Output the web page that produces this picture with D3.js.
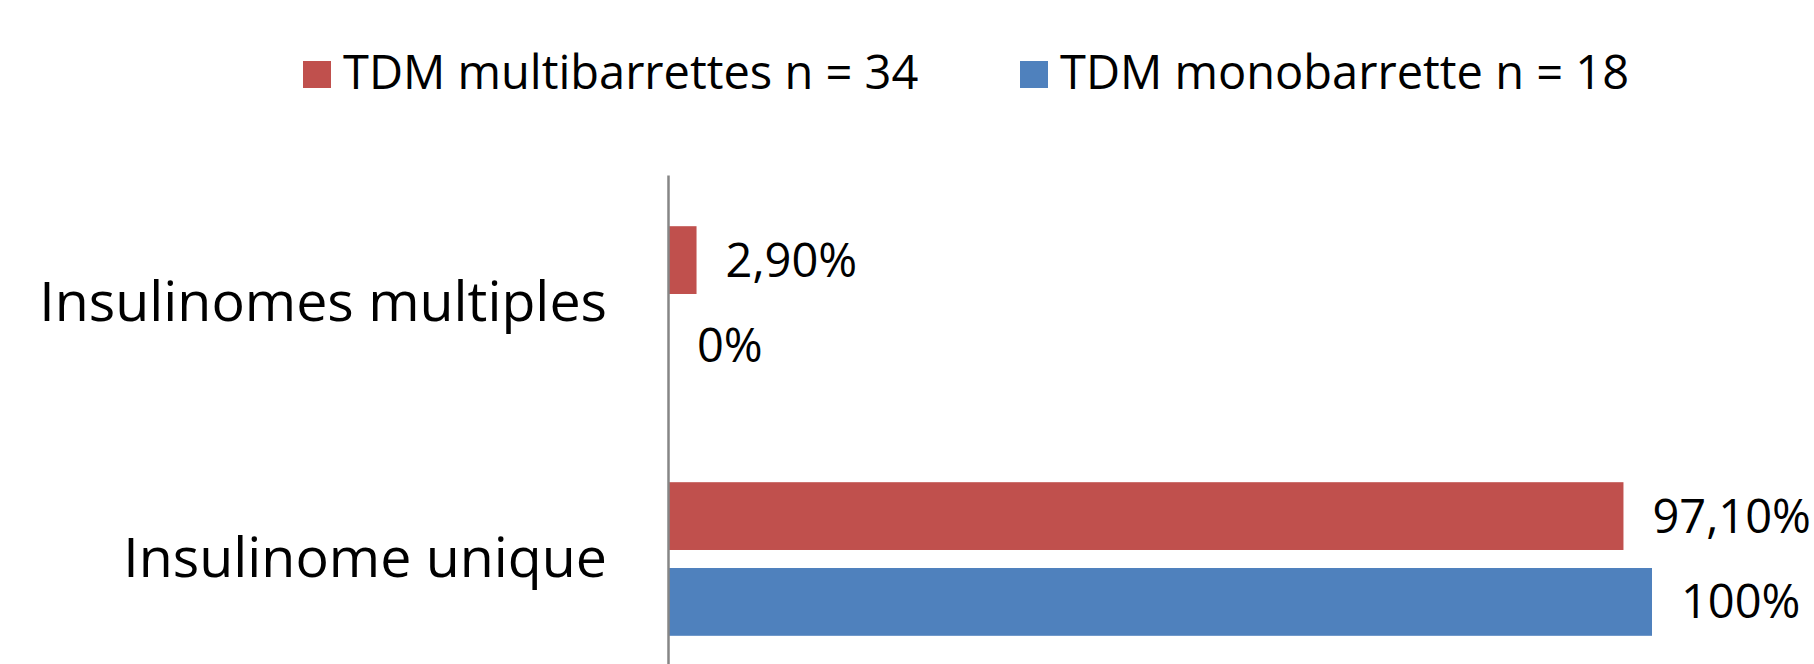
<!DOCTYPE html>
<html>
<head>
<meta charset="utf-8">
<script src="https://cdn.jsdelivr.net/npm/d3@7"></script>
<style>
  html, body { margin: 0; padding: 0; background: #fff; }
  svg { display: block; font-family: "Open Sans", "Noto Sans", sans-serif; }
</style>
</head>
<body>
<svg id="chart" width="1814" height="664"></svg>
<script>
// Categories (top to bottom) and the two series, in percent
const categories = ["Insulinomes multiples", "Insulinome unique"];
const seriesNames = ["TDM multibarrettes n = 34", "TDM monobarrette n = 18"];
const multiValues = [2.9, 97.1];
const monoValues = [0, 100];
const seriesDecimals = [2, 0];
const seriesColors = ["#C0504D", "#4F81BD"];

const seriesValues = [multiValues, monoValues];
const rows = categories.map((c, i) => ({
  category: c,
  values: seriesNames.map((s, k) => ({ series: s, k, value: seriesValues[k][i] }))
}));

const frLocale = d3.formatLocale({ decimal: ",", thousands: " ", grouping: [3], currency: ["", " €"] });
const fmt = seriesDecimals.map(d => frLocale.format("." + d + "f"));

const svg = d3.select("#chart");
const fontFamily = "'Open Sans', 'Noto Sans', sans-serif";

const x = d3.scaleLinear().domain([0, 100]).range([668, 1652]);
const y = d3.scaleBand().domain(categories).range([175, 687]).paddingInner(0.4).paddingOuter(0.2);
const ySeries = d3.scaleBand().domain(seriesNames).range([0, y.bandwidth()]).paddingInner(0.21);

// Bars
const groups = svg.append("g").selectAll("g")
  .data(rows).join("g")
  .attr("transform", d => `translate(0,${y(d.category)})`);

groups.selectAll("rect")
  .data(d => d.values).join("rect")
  .attr("x", x(0))
  .attr("y", d => ySeries(d.series))
  .attr("width", d => x(d.value) - x(0))
  .attr("height", ySeries.bandwidth())
  .attr("fill", d => seriesColors[d.k]);

// Value labels
groups.selectAll("text")
  .data(d => d.values).join("text")
  .attr("x", d => x(d.value) + 29)
  .attr("y", d => ySeries(d.series) + ySeries.bandwidth() / 2)
  .attr("dy", "0.35em")
  .attr("font-size", 47)
  .attr("fill", "#000")
  .text(d => fmt[d.k](d.value) + "%");

// Category axis
const axis = svg.append("g")
  .attr("transform", `translate(${x(0)},0)`)
  .call(d3.axisLeft(y).tickSize(0).tickSizeOuter(0).tickPadding(61));
axis.select(".domain").attr("stroke", "#868686").attr("stroke-width", 2.5);
axis.selectAll(".tick text")
  .attr("font-family", fontFamily)
  .attr("font-size", 55.5)
  .attr("fill", "#000")
  .attr("dy", "0.33em");

// Legend
const legendX = [303, 1020];
const legend = svg.append("g").selectAll("g")
  .data(seriesNames).join("g")
  .attr("transform", (d, i) => `translate(${legendX[i]},61)`);
legend.append("rect")
  .attr("width", 28).attr("height", 27)
  .attr("fill", (d, i) => seriesColors[i]);
legend.append("text")
  .attr("x", 40).attr("y", 28.3)
  .attr("font-size", 47)
  .attr("fill", "#000")
  .text(d => d);
</script>
</body>
</html>
